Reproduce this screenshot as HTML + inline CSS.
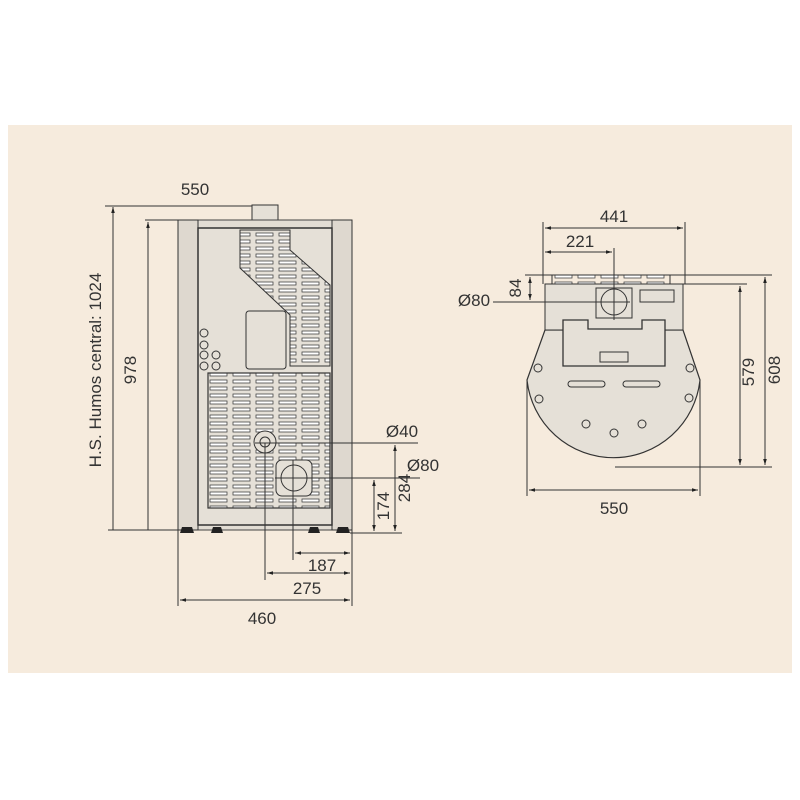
<!DOCTYPE html>
<html><head><style>
html,body{margin:0;padding:0;background:#fff;}
svg{display:block;}
text{font-family:"Liberation Sans",sans-serif;font-size:17px;fill:#333;}
</style></head><body>
<svg width="800" height="800" viewBox="0 0 800 800" xmlns="http://www.w3.org/2000/svg">
<defs>
<marker id="a" viewBox="0 0 10 10" refX="10" refY="5" markerWidth="6" markerHeight="6" orient="auto-start-reverse"><path d="M0,2 L10,5 L0,8z" fill="#222"/></marker>
<pattern id="g" width="23" height="7" patternUnits="userSpaceOnUse"><rect x="3" y="2" width="17" height="3" fill="#fff" stroke="#444" stroke-width="0.8"/></pattern>
</defs>
<rect x="8" y="125" width="784" height="548" fill="#f6ebdd"/>
<g stroke="#333" stroke-width="1" fill="none">
<!-- front view -->
<rect x="252" y="205" width="26" height="17" fill="#e5e0d7"/>
<rect x="178" y="220" width="174" height="310" fill="#e2ddd4" stroke="#444"/>
<rect x="178" y="220" width="20" height="310" fill="#ded8cf"/>
<rect x="332" y="220" width="20" height="310" fill="#ded8cf"/>
<rect x="198" y="228" width="134" height="297" fill="#e5e0d7" stroke-width="1.5"/>
<path d="M240,230 L290,230 L290,250 L330,285 L330,366 L290,366 L290,315 L240,268 Z" fill="url(#g)"/>
<rect x="246" y="311" width="40" height="58" rx="3" fill="#e5e0d7"/>
<rect x="208" y="373" width="122" height="135" fill="url(#g)" stroke-width="1.2"/>
<circle cx="265" cy="442" r="11" fill="#e5e0d7"/><circle cx="265" cy="442" r="5"/>
<rect x="276" y="460" width="36" height="36" rx="6" fill="#e5e0d7"/>
<circle cx="294" cy="478" r="13" fill="#e5e0d7"/>
<g fill="#e5e0d7"><circle cx="204" cy="333" r="4"/><circle cx="204" cy="345" r="4"/><circle cx="204" cy="355" r="4"/><circle cx="216" cy="355" r="4"/><circle cx="204" cy="366" r="4"/><circle cx="216" cy="366" r="4"/></g>
<g fill="#222" stroke="none"><path d="M182,527h10l2,6h-14z"/><path d="M213,527h8l2,6h-12z"/><path d="M310,527h8l2,6h-12z"/><path d="M338,527h10l2,6h-14z"/></g>
<!-- front dims -->
<path d="M105,206 H252"/><path d="M145,220 H180"/><path d="M108,530 H180"/>
<path d="M113,207 V530" marker-start="url(#a)"/>
<path d="M148,222 V530" marker-start="url(#a)"/>
<path d="M255,443 H418"/><path d="M275,478 H420"/>
<path d="M350,533 H402"/>
<path d="M374,480 V531" marker-start="url(#a)" marker-end="url(#a)"/>
<path d="M395,445 V531" marker-start="url(#a)" marker-end="url(#a)"/>
<path d="M265,443 V580"/><path d="M293,460 V560"/>
<path d="M178,530 V606"/><path d="M352,530 V606"/>
<path d="M295,553 H350" marker-start="url(#a)" marker-end="url(#a)"/>
<path d="M267,573 H350" marker-start="url(#a)" marker-end="url(#a)"/>
<path d="M180,600 H350" marker-start="url(#a)" marker-end="url(#a)"/>
<!-- top view -->
<path d="M545,330 L527,380 A87,87 0 0 0 700,380 L683,330 Z" fill="#e5e0d7" stroke-width="1.2"/>
<rect x="552" y="275" width="118" height="9" fill="url(#g)"/>
<rect x="545" y="284" width="138" height="46" fill="#e5e0d7"/>
<rect x="596" y="288" width="36" height="30"/>
<circle cx="614" cy="302" r="13"/>
<rect x="640" y="290" width="34" height="12"/>
<path d="M563,320 H588 V329 H642 V320 H665 V366 H563 Z" fill="#e5e0d7" stroke-width="1.3"/>
<rect x="600" y="352" width="28" height="10"/>
<rect x="568" y="381" width="37" height="6" rx="3"/><rect x="623" y="381" width="37" height="6" rx="3"/>
<circle cx="538" cy="368" r="4"/><circle cx="690" cy="368" r="4"/><circle cx="539" cy="399" r="4"/><circle cx="689" cy="398" r="4"/>
<circle cx="586" cy="424" r="4"/><circle cx="614" cy="433" r="4"/><circle cx="642" cy="424" r="4"/>
<!-- top dims -->
<path d="M543,222 V284"/><path d="M685,222 V284"/><path d="M614,248 V320"/>
<path d="M545,228 H683" marker-start="url(#a)" marker-end="url(#a)"/>
<path d="M545,252 H612" marker-start="url(#a)" marker-end="url(#a)"/>
<path d="M525,275 H552"/><path d="M493,302 H630"/>
<path d="M530,277 V300" marker-start="url(#a)" marker-end="url(#a)"/>
<path d="M670,275 H772"/><path d="M683,284 H747"/><path d="M615,467 H772"/>
<path d="M740,286 V465" marker-start="url(#a)" marker-end="url(#a)"/>
<path d="M765,277 V465" marker-start="url(#a)" marker-end="url(#a)"/>
<path d="M527,380 V496"/><path d="M700,380 V496"/>
<path d="M529,490 H698" marker-start="url(#a)" marker-end="url(#a)"/>
</g>
<text x="195" y="195" text-anchor="middle">550</text>
<text transform="translate(101,370) rotate(-90)" text-anchor="middle">H.S. Humos central: 1024</text>
<text transform="translate(136,370) rotate(-90)" text-anchor="middle">978</text>
<text x="402" y="437" text-anchor="middle">Ø40</text>
<text x="423" y="471" text-anchor="middle">Ø80</text>
<text transform="translate(389,506) rotate(-90)" text-anchor="middle">174</text>
<text transform="translate(410,488) rotate(-90)" text-anchor="middle">284</text>
<text x="322" y="571" text-anchor="middle">187</text>
<text x="307" y="594" text-anchor="middle">275</text>
<text x="262" y="624" text-anchor="middle">460</text>
<text x="614" y="222" text-anchor="middle">441</text>
<text x="580" y="247" text-anchor="middle">221</text>
<text transform="translate(521,288) rotate(-90)" text-anchor="middle">84</text>
<text x="474" y="306" text-anchor="middle">Ø80</text>
<text transform="translate(754,372) rotate(-90)" text-anchor="middle">579</text>
<text transform="translate(780,370) rotate(-90)" text-anchor="middle">608</text>
<text x="614" y="514" text-anchor="middle">550</text>
</svg>
</body></html>
